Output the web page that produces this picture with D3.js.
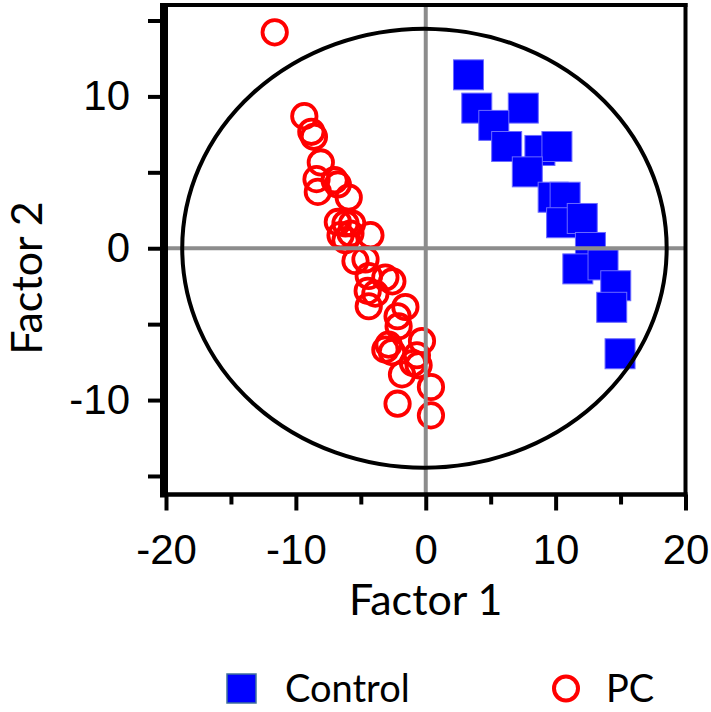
<!DOCTYPE html>
<html>
<head>
<meta charset="utf-8">
<script src="https://cdn.jsdelivr.net/npm/d3@7"></script>
<style>
  html, body { margin: 0; padding: 0; background: #fff; }
  svg { display: block; }
</style>
</head>
<body>
<svg id="chart" width="711" height="712"></svg>
<script>
// ---- data (Factor 1, Factor 2 scores) ----
const controlX = [3.29, 3.93, 7.51, 5.24, 6.23, 8.79, 10.10, 7.82, 9.81, 10.73, 10.46, 12.05, 12.68, 11.71, 13.65, 14.63, 14.32, 14.96];
const controlY = [11.42, 9.23, 9.23, 8.09, 6.70, 6.44, 6.70, 5.03, 3.36, 3.36, 1.68, 1.96, 0.05, -1.36, -1.10, -2.47, -3.89, -6.95];

const pcX = [-11.63, -9.35, -8.81, -8.61, -8.08, -8.41, -8.31, -7.02, -6.77, -5.93,
             -6.77, -6.18, -5.67, -6.56, -5.80, -4.26, -6.18, -5.41, -4.64, -4.39,
             -3.11, -2.57, -4.47, -3.88, -4.39, -1.57, -2.17, -2.09, -0.29, -3.11,
             -2.60, -2.86, -0.68, -0.98, -0.55, -1.83, 0.40, -2.17, 0.40];
const pcY = [14.22, 8.70, 7.67, 7.34, 5.65, 4.55, 3.71, 4.48, 4.20, 3.34,
             1.73, 1.63, 1.63, 0.86, 0.97, 0.86, 0.53, -0.84, -0.74, -1.83,
             -1.93, -2.18, -2.81, -2.99, -3.82, -3.87, -4.48, -5.14, -6.11, -6.68,
             -6.84, -6.35, -7.05, -7.56, -7.71, -8.31, -9.14, -10.24, -11.01];

const xMajorTicks = [-20, -10, 0, 10, 20];
const xMinorTicks = [-15, -5, 5, 15];
const yMajorTicks = [-10, 0, 10];
const yMinorTicks = [-15, -5, 5, 15];

const xTitle = "Factor 1";
const yTitle = "Factor 2";
const seriesNames = ["Control", "PC"];

// confidence ellipse (data units)
const ellipseCenter = [-0.1, 0];
const ellipseRadii = [18.65, 14.46];

// ---- layout ----
const svg = d3.select("#chart");
const padL = 164, padR = 685.5, padT = 5, padB = 494.5;

const x = d3.scaleLinear().domain([-20, 20]).range([166, 685.5]);
const y = d3.scaleLinear().domain([-16.22, 16.02]).range([padB, padT]);

const tickFont = "'Liberation Sans', Arial, sans-serif";
const titleFont = "Lato, 'Open Sans', sans-serif";

// ---- points ----
const control = controlX.map((v, i) => ({ x: v, y: controlY[i] }));
const pc = pcX.map((v, i) => ({ x: v, y: pcY[i] }));

const sq = 30;
svg.append("g").selectAll("rect").data(control).join("rect")
  .attr("x", d => x(d.x) - sq / 2)
  .attr("y", d => y(d.y) - sq / 2)
  .attr("width", sq).attr("height", sq)
  .attr("fill", "#0000ff")
  .attr("stroke", "#6b6bff").attr("stroke-width", 1);

svg.append("g").selectAll("circle").data(pc).join("circle")
  .attr("cx", d => x(d.x))
  .attr("cy", d => y(d.y))
  .attr("r", 12.2)
  .attr("fill", "none")
  .attr("stroke", "#ff0000").attr("stroke-width", 3.8);

// ---- zero lines ----
svg.append("line")
  .attr("x1", x(0)).attr("x2", x(0)).attr("y1", padT).attr("y2", padB)
  .attr("stroke", "#8c8c8c").attr("stroke-width", 4);
svg.append("line")
  .attr("x1", padL).attr("x2", padR).attr("y1", y(0)).attr("y2", y(0))
  .attr("stroke", "#8c8c8c").attr("stroke-width", 4);

// ---- ellipse ----
svg.append("ellipse")
  .attr("cx", x(ellipseCenter[0]))
  .attr("cy", y(ellipseCenter[1]))
  .attr("rx", x(ellipseRadii[0]) - x(0))
  .attr("ry", y(0) - y(ellipseRadii[1]))
  .attr("fill", "none")
  .attr("stroke", "#000").attr("stroke-width", 4);

// ---- frame (top & right) ----
svg.append("line").attr("x1", padL - 4).attr("x2", padR + 2)
  .attr("y1", padT).attr("y2", padT).attr("stroke", "#000").attr("stroke-width", 4);
svg.append("line").attr("x1", padR).attr("x2", padR)
  .attr("y1", padT - 2).attr("y2", padB + 2).attr("stroke", "#000").attr("stroke-width", 4);

// ---- x axis ----
const gx = svg.append("g").attr("transform", `translate(0,${padB})`);
gx.append("g").call(d3.axisBottom(x).tickValues(xMinorTicks).tickSize(10).tickFormat(""))
  .call(g => g.select(".domain").remove())
  .call(g => g.selectAll("line").attr("stroke", "#000").attr("stroke-width", 4));
gx.append("g").call(d3.axisBottom(x).tickValues(xMajorTicks).tickSize(16).tickPadding(24).tickFormat(d3.format("d")))
  .call(g => g.select(".domain").remove())
  .call(g => g.selectAll("line").attr("stroke", "#000").attr("stroke-width", 4))
  .call(g => g.selectAll("text").attr("fill", "#000")
      .style("font-family", tickFont).style("font-size", "42px")
      .text(d => d < 0 ? "-" + Math.abs(d) : d));
gx.append("line").attr("x1", padL - 4).attr("x2", padR + 2).attr("y1", 0).attr("y2", 0)
  .attr("stroke", "#000").attr("stroke-width", 4.5);

// ---- y axis ----
const gy = svg.append("g").attr("transform", `translate(${padL},0)`);
gy.append("g").call(d3.axisLeft(y).tickValues(yMinorTicks).tickSize(16).tickFormat(""))
  .call(g => g.select(".domain").remove())
  .call(g => g.selectAll("line").attr("stroke", "#000").attr("stroke-width", 4));
gy.append("g").call(d3.axisLeft(y).tickValues(yMajorTicks).tickSize(16).tickPadding(18).tickFormat(d3.format("d")))
  .call(g => g.select(".domain").remove())
  .call(g => g.selectAll("line").attr("stroke", "#000").attr("stroke-width", 4))
  .call(g => g.selectAll("text").attr("fill", "#000")
      .style("font-family", tickFont).style("font-size", "42px")
      .text(d => d < 0 ? "-" + Math.abs(d) : d));
gy.append("line").attr("x1", 0).attr("x2", 0).attr("y1", padT - 2).attr("y2", padB + 3)
  .attr("stroke", "#000").attr("stroke-width", 8);

// ---- axis titles ----
svg.append("text")
  .attr("x", (x(-20) + x(20)) / 2).attr("y", 615)
  .attr("text-anchor", "middle")
  .style("font-family", titleFont).style("font-size", "43px").attr("fill", "#000")
  .text(xTitle);
svg.append("text")
  .attr("transform", "translate(42,278) rotate(-90)")
  .attr("text-anchor", "middle")
  .style("font-family", titleFont).style("font-size", "43px").attr("fill", "#000")
  .text(yTitle);

// ---- legend ----
const lg = svg.append("g");
lg.append("rect").attr("x", 227).attr("y", 674).attr("width", 29).attr("height", 29)
  .attr("fill", "#0000ff").attr("stroke", "#41719c").attr("stroke-width", 1.5);
lg.append("text").attr("x", 285).attr("y", 702)
  .style("font-family", titleFont).style("font-size", "38px").attr("fill", "#000")
  .text(seriesNames[0]);
lg.append("circle").attr("cx", 566).attr("cy", 688.5).attr("r", 12)
  .attr("fill", "none").attr("stroke", "#ff0000").attr("stroke-width", 4);
lg.append("text").attr("x", 606).attr("y", 702)
  .style("font-family", titleFont).style("font-size", "38px").attr("fill", "#000")
  .text(seriesNames[1]);
</script>
</body>
</html>
